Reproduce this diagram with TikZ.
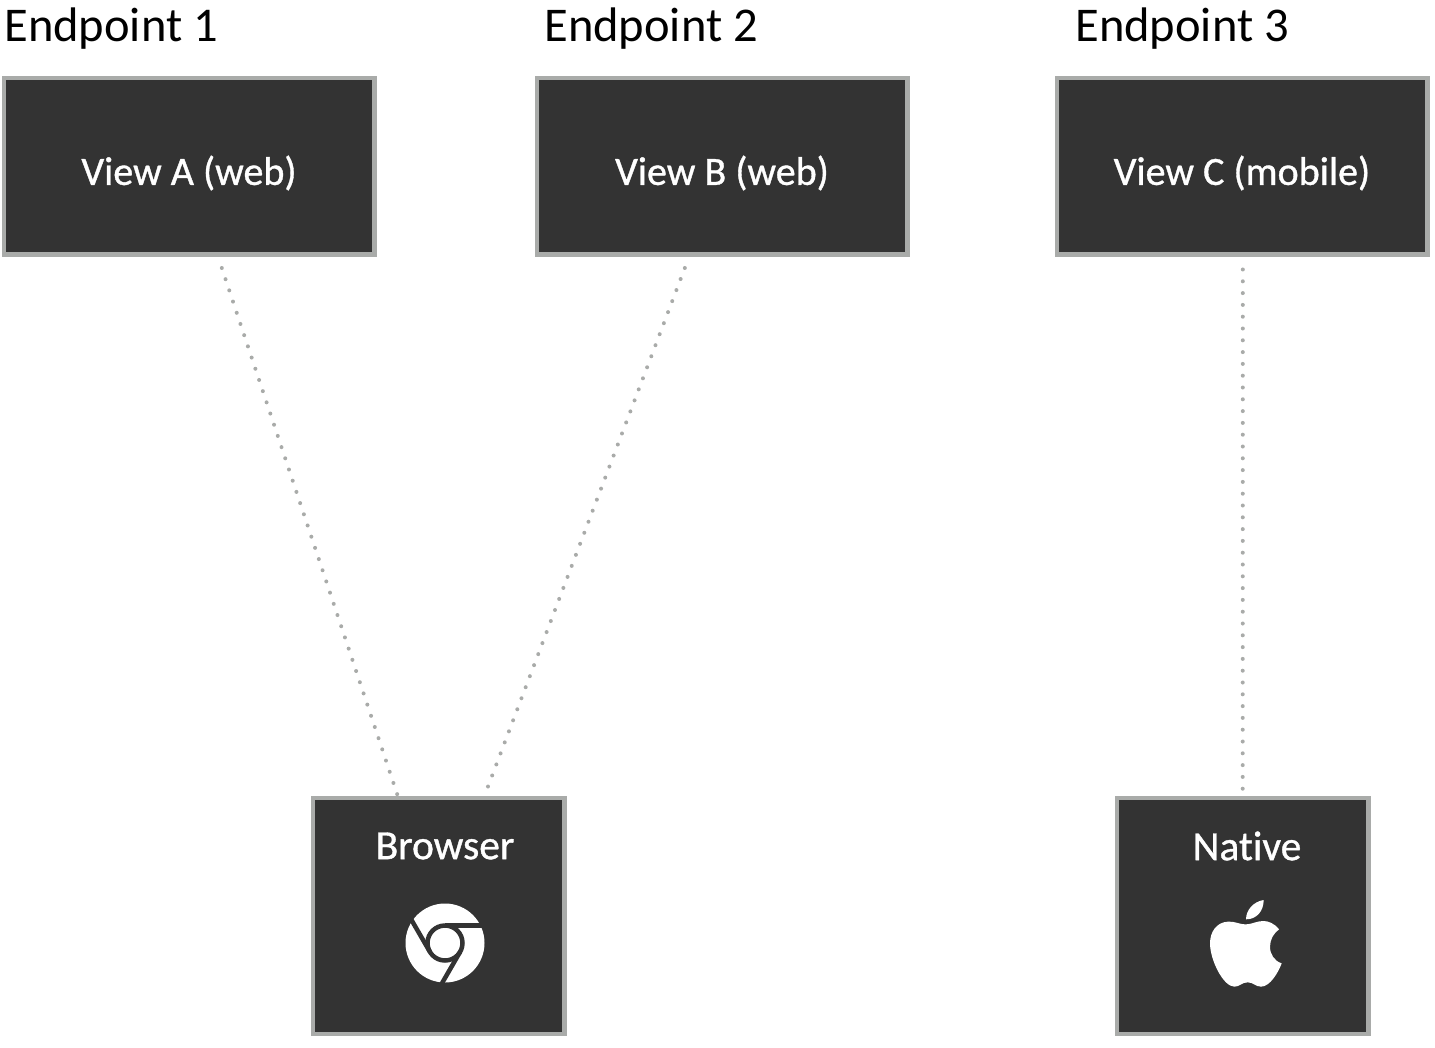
\documentclass[tikz,border=0pt]{standalone}
\usepackage{fontspec}
\setmainfont[Ligatures=NoCommon]{Carlito}
\newfontfamily\boxfont[Ligatures=NoCommon,FakeBold=0.9]{Carlito}
\definecolor{boxfill}{HTML}{333333}
\definecolor{boxedge}{HTML}{A9ABA9}
\tikzset{
  unitbox/.style={draw=boxedge,line width=4.5*0.02cm,fill=boxfill,inner sep=0},
  viewbox/.style={unitbox,minimum width=370.5*0.02cm,minimum height=176.5*0.02cm},
  clientbox/.style={unitbox,minimum width=251.5*0.02cm,minimum height=236*0.02cm},
  boxtext/.style={text=white,inner sep=0,font=\boxfont\fontsize{22.8}{26}\selectfont},
  clienttext/.style={boxtext,font=\boxfont\fontsize{23.6}{26}\selectfont},
  endpoint/.style={anchor=base west,inner sep=0,font=\fontsize{27.6}{32}\selectfont},
  dotline/.style={draw=boxedge,line width=4*0.02cm,line cap=round,dash pattern=on 0pt off 11.8*0.02cm}
}
\begin{document}
\begin{tikzpicture}[x=0.02cm,y=-0.02cm]
  \useasboundingbox (0,0) rectangle (1435,1047);

  % Endpoint columns
  \node[viewbox] (viewa) at (189.3,166.5) {};
  \node[viewbox] (viewb) at (722.3,166.5) {};
  \node[viewbox] (viewc) at (1242.3,166.5) {};
  \node[boxtext] (viewatext) at (189,173) {View A (web)};
  \node[boxtext] (viewbtext) at (722,173) {View B (web)};
  \node[boxtext] (viewctext) at (1242,173) {View C (mobile)};

  % headings
  \node[endpoint] (endpointa) at (4,42) {Endpoint 1};
  \node[endpoint] (endpointb) at (544,42) {Endpoint 2};
  \node[endpoint] (endpointc) at (1075,42) {Endpoint 3};

  % Clients
  \node[clientbox] (browser) at (438.7,916) {};
  \node[clientbox] (native) at (1242.7,916) {};
  \node[clienttext] (browsertext) at (445,846) {Browser};
  \node[clienttext] (nativetext) at (1247,846) {Native};

  % connecting the units
  \draw[dotline] ([shift={(32.5,11)}]viewa.south) -- ([shift={(-41,0)}]browser.north);
  \draw[dotline] ([shift={(-37.5,11)}]viewb.south) -- ([shift={(49,-8.5)}]browser.north);
  \draw[dotline] ([shift={(0.5,12.5)}]viewc.south) -- ([shift={(0,-6.5)}]native.north);

  % Browser icon, three blades round a ring
  \begin{scope}[shift={(445,943)}]
    \fill[white] (0,0) circle (39.5);
    \foreach \turn in {0,120,240}
      \draw[boxfill,line width=4.5*0.02cm,rotate=\turn] (0,-17.5) -- (42,-17.5);
    \draw[boxfill,line width=4.5*0.02cm] (0,0) circle (17.5);
  \end{scope}

  % Native icon
  \begin{scope}[shift={(1185,885)},scale=1/3]
    \fill[white] (183,118) .. controls (160,118) and (150,108) .. (128,110)
      .. controls (95,112) and (75,140) .. (75,175)
      .. controls (75,225) and (115,305) .. (148,305)
      .. controls (165,305) and (170,292) .. (188,292)
      .. controls (205,292) and (212,305) .. (228,305)
      .. controls (255,305) and (280,262) .. (290,235)
      .. controls (268,228) and (255,208) .. (255,185)
      .. controls (255,165) and (265,145) .. (282,133)
      .. controls (268,115) and (250,108) .. (235,108)
      .. controls (215,108) and (200,118) .. (183,118) -- cycle;
    \fill[white] (183,103) .. controls (183,75) and (205,50) .. (236,45)
      .. controls (236,78) and (215,103) .. (183,103) -- cycle;
  \end{scope}
\end{tikzpicture}
\end{document}
